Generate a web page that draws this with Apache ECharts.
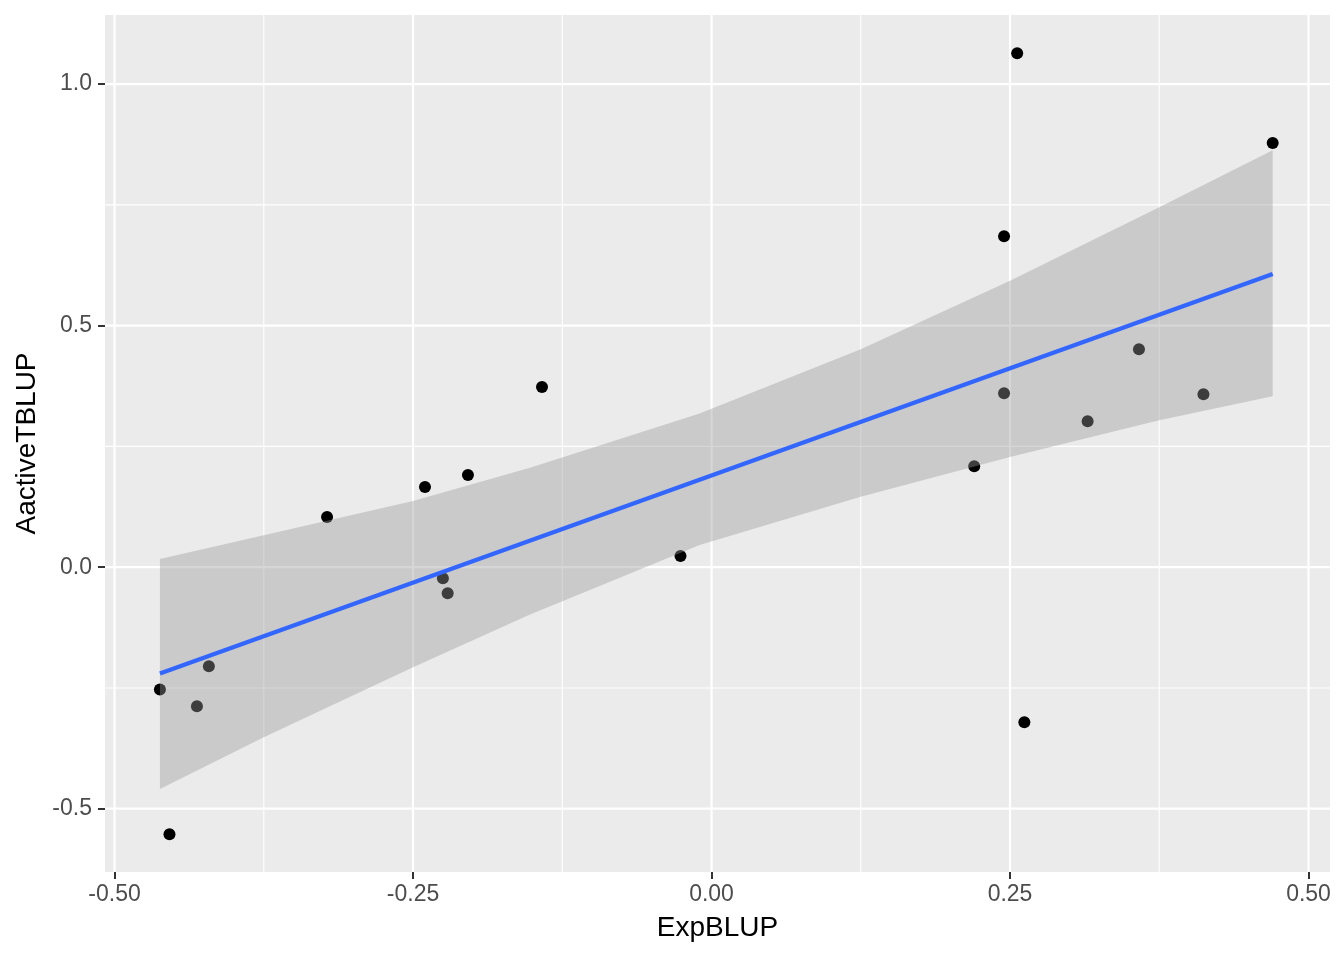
<!DOCTYPE html>
<html>
<head>
<meta charset="utf-8">
<script src="https://cdn.jsdelivr.net/npm/echarts@6/dist/echarts.min.js"></script>
<style>
  html, body { margin: 0; padding: 0; background: #fff; }
  #chart { width: 1344px; height: 960px; }
</style>
</head>
<body>
<div id="chart"></div>
<script>
// points
var expBLUP = [-0.462, -0.454, -0.431, -0.421, -0.322, -0.240, -0.225, -0.221, -0.204, -0.142,
               -0.026, 0.220, 0.245, 0.245, 0.256, 0.262, 0.315, 0.358, 0.412, 0.470];
var activeTBLUP = [-0.253, -0.553, -0.288, -0.205, 0.104, 0.166, -0.023, -0.054, 0.191, 0.373,
                   0.023, 0.209, 0.685, 0.360, 1.064, -0.321, 0.302, 0.451, 0.358, 0.878];

// fitted line ends
var fitX = [-0.462, 0.470];
var fitY = [-0.220, 0.607];

// confidence band edges
var bandX     = [-0.462, -0.375, -0.250, -0.152, -0.010, 0.125, 0.250, 0.375, 0.470];
var bandUpper = [0.017, 0.066, 0.137, 0.206, 0.318, 0.451, 0.593, 0.745, 0.863];
var bandLower = [-0.459, -0.352, -0.207, -0.098, 0.046, 0.146, 0.228, 0.304, 0.354];

// axis breaks
var xMajor = [-0.5, -0.25, 0, 0.25, 0.5];
var xMinor = [-0.375, -0.125, 0.125, 0.375];
var yMajor = [-0.5, 0, 0.5, 1.0];
var yMinor = [-0.25, 0.25, 0.75];

var xMin = -0.508, xMax = 0.518;
var yMin = -0.631, yMax = 1.143;

var myChart = echarts.init(document.getElementById('chart'));

var pts = expBLUP.map(function (x, i) { return [x, activeTBLUP[i]]; });
var fit = fitX.map(function (x, i) { return [x, fitY[i]]; });

// white panel grid drawn through the axes' own scales
function gridSeries(xs, ys, width) {
    return {
        type: 'custom', z: 1, silent: true,
        data: [[xMin, yMin]],
        renderItem: function (params, api) {
            var kids = [];
            xs.forEach(function (v) {
                var a = api.coord([v, yMin]), b = api.coord([v, yMax]);
                kids.push({ type: 'line', shape: { x1: a[0], y1: a[1], x2: b[0], y2: b[1] },
                            style: { stroke: '#ffffff', lineWidth: width } });
            });
            ys.forEach(function (v) {
                var a = api.coord([xMin, v]), b = api.coord([xMax, v]);
                kids.push({ type: 'line', shape: { x1: a[0], y1: a[1], x2: b[0], y2: b[1] },
                            style: { stroke: '#ffffff', lineWidth: width } });
            });
            return { type: 'group', children: kids };
        }
    };
}

var labelFont = { fontFamily: 'Liberation Sans', fontSize: 23, color: '#4D4D4D' };

var option = {
    backgroundColor: '#ffffff',
    animation: false,
    grid: {
        left: 105, right: 14, top: 15, bottom: 88,
        show: true,
        backgroundColor: '#EBEBEB',
        borderWidth: 0
    },
    xAxis: {
        type: 'value',
        min: xMin,
        max: xMax,
        name: 'ExpBLUP',
        nameLocation: 'middle',
        nameGap: 42,
        nameTextStyle: { fontFamily: 'Liberation Sans', fontSize: 28, color: '#000' },
        axisLine: { show: false, onZero: false },
        splitLine: { show: false },
        axisTick: {
            show: true, length: 7, customValues: xMajor,
            lineStyle: { color: '#333333', width: 2 }
        },
        axisLabel: Object.assign({
            customValues: xMajor, margin: 11,
            formatter: function (v) { return v.toFixed(2); }
        }, labelFont)
    },
    yAxis: {
        type: 'value',
        min: yMin,
        max: yMax,
        name: 'AactiveTBLUP',
        nameLocation: 'middle',
        nameGap: 64,
        nameRotate: 90,
        nameTextStyle: { fontFamily: 'Liberation Sans', fontSize: 28, color: '#000' },
        axisLine: { show: false, onZero: false },
        splitLine: { show: false },
        axisTick: {
            show: true, length: 7, customValues: yMajor,
            lineStyle: { color: '#333333', width: 2 }
        },
        axisLabel: Object.assign({
            customValues: yMajor, margin: 13,
            formatter: function (v) { return v.toFixed(1); }
        }, labelFont)
    },
    series: [
        gridSeries(xMinor, yMinor, 1.1),
        gridSeries(xMajor, yMajor, 2.2),
        {
            type: 'scatter',
            data: pts,
            z: 2,
            symbolSize: 12,
            itemStyle: { color: '#000000', opacity: 1 }
        },
        {
            // confidence band
            type: 'custom',
            z: 3,
            silent: true,
            data: [[bandX[0], bandLower[0]]],
            renderItem: function (params, api) {
                var poly = [];
                for (var i = 0; i < bandX.length; i++) poly.push(api.coord([bandX[i], bandUpper[i]]));
                for (var j = bandX.length - 1; j >= 0; j--) poly.push(api.coord([bandX[j], bandLower[j]]));
                return {
                    type: 'polygon',
                    shape: { points: poly },
                    style: { fill: 'rgba(153,153,153,0.4)' }
                };
            }
        },
        {
            type: 'line',
            data: fit,
            z: 4,
            showSymbol: false,
            lineStyle: { color: '#3366FF', width: 4.3 }
        }
    ]
};
myChart.setOption(option);
</script>
</body>
</html>
